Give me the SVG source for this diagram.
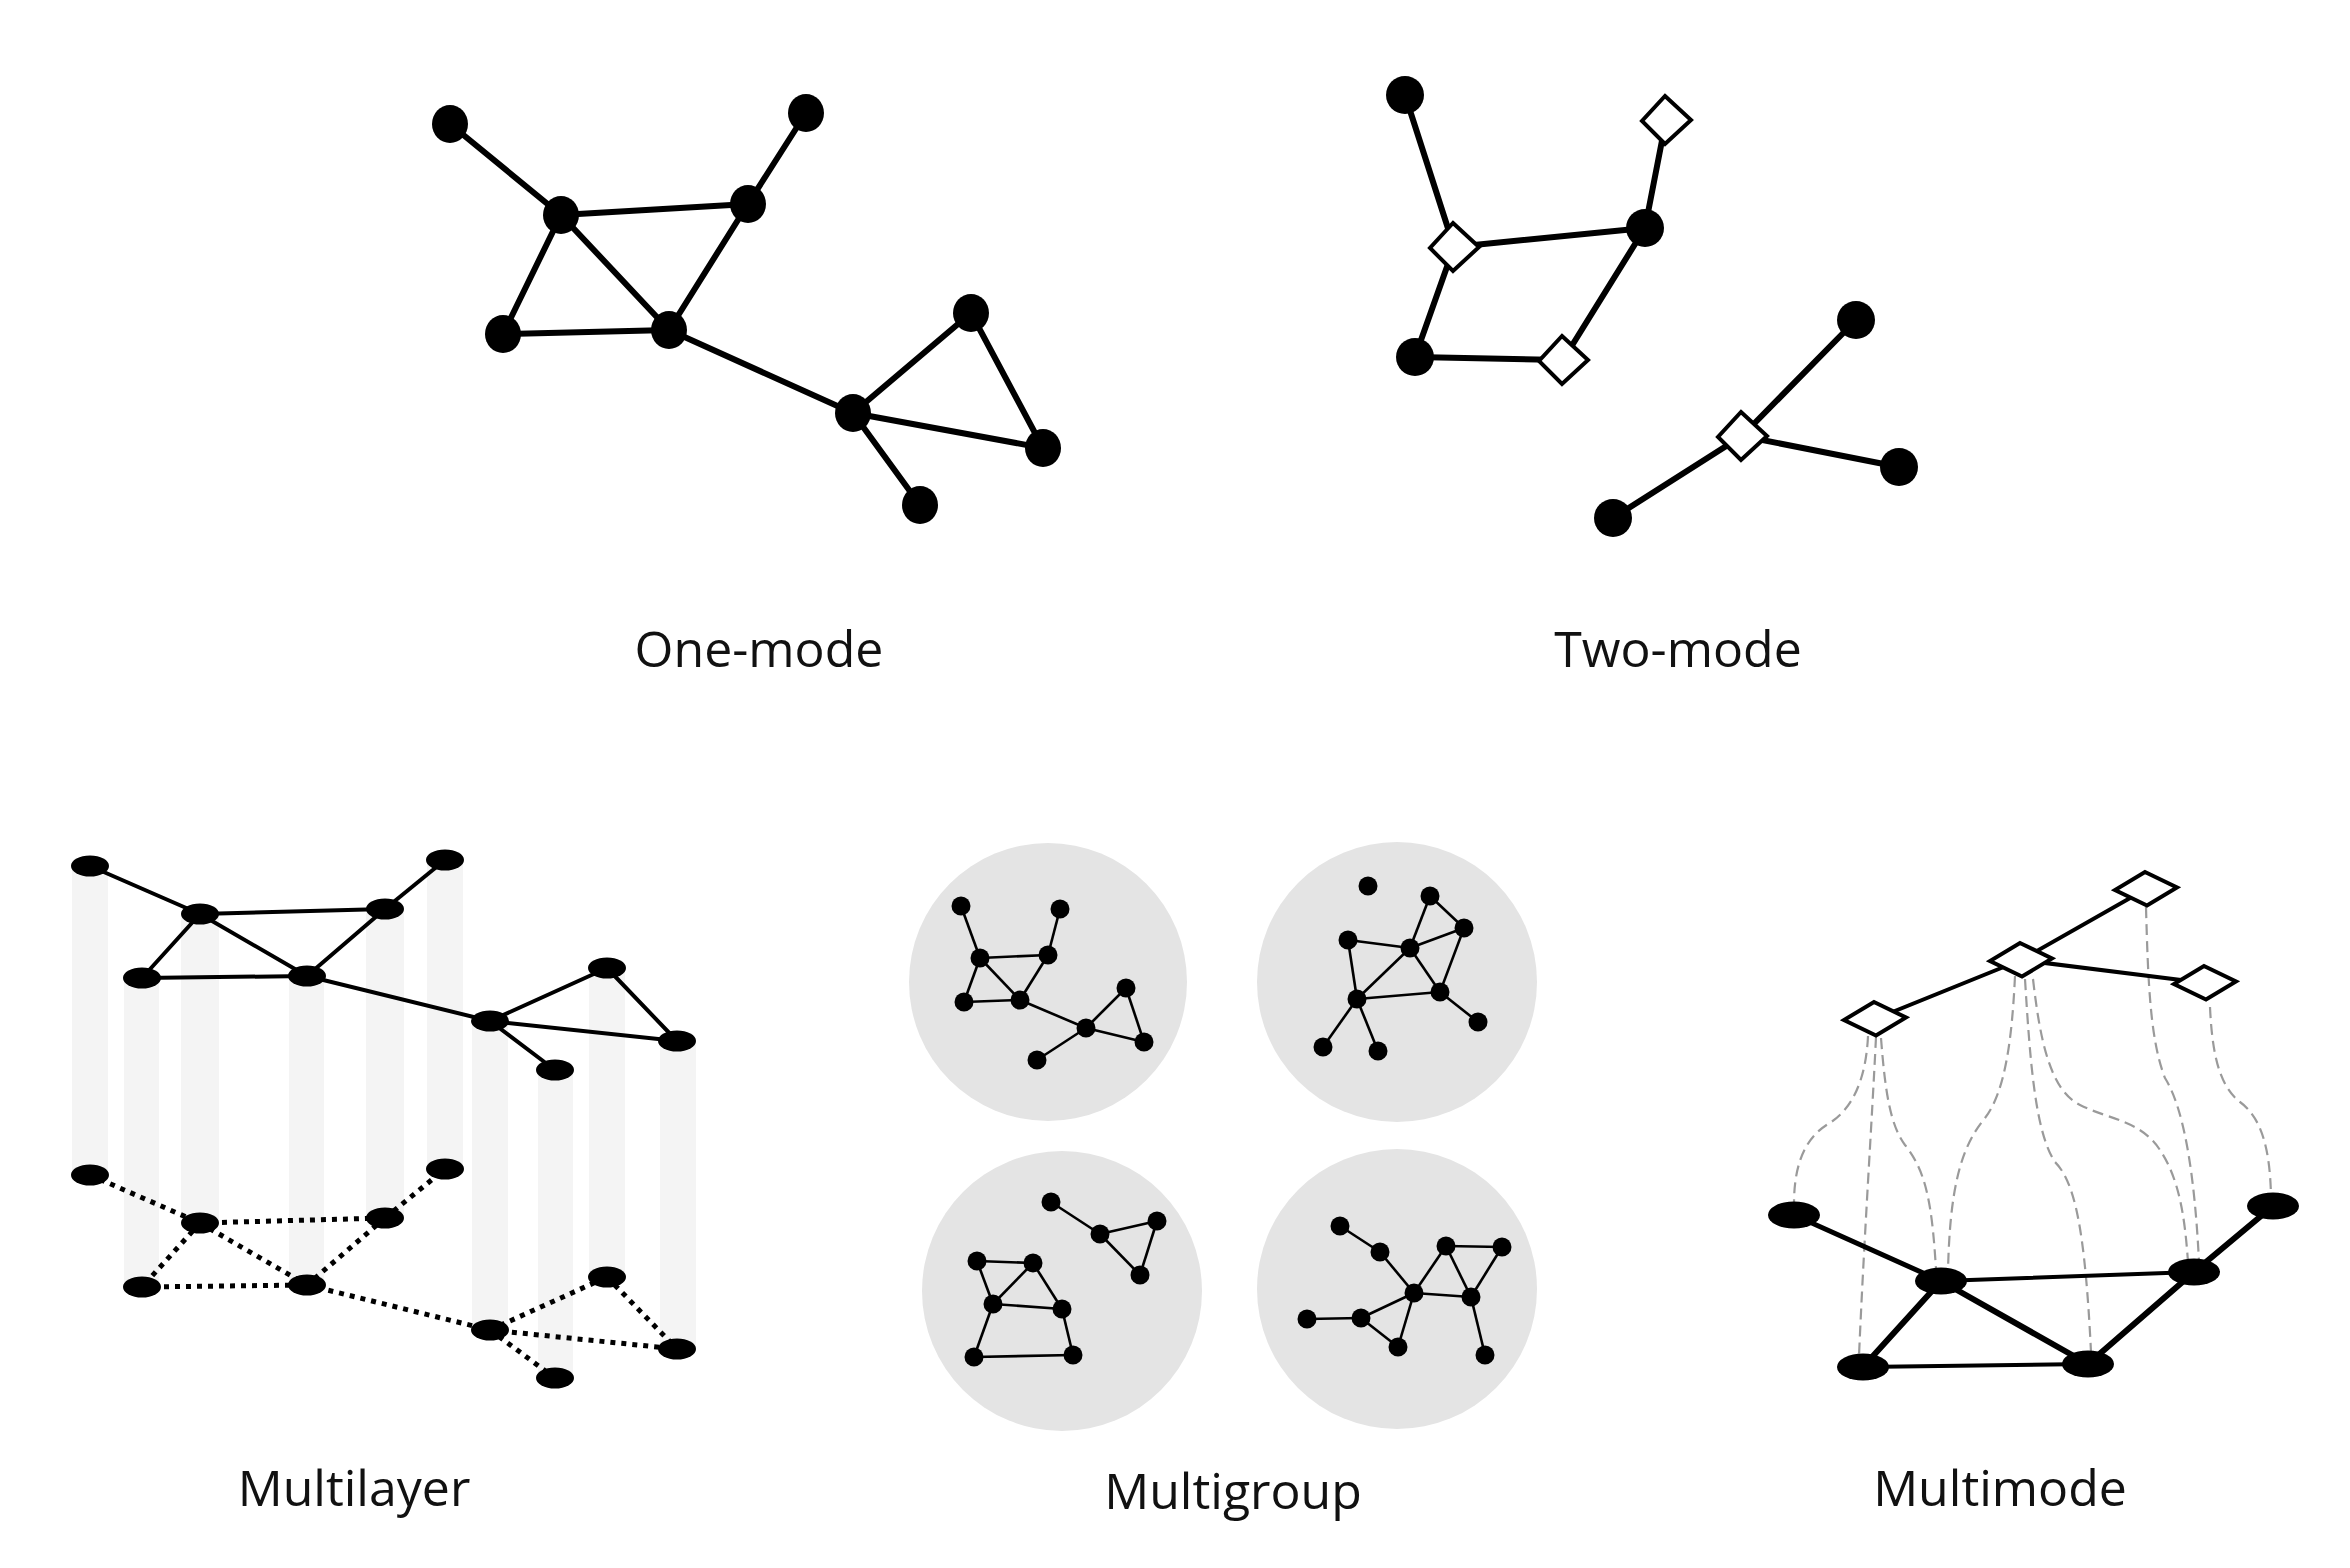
<svg xmlns="http://www.w3.org/2000/svg" xmlns:xlink="http://www.w3.org/1999/xlink" width="2350" height="1568" viewBox="0 0 2350 1568">
<style>
.bg{fill:#ffffff}
.lbl{font-family:"Open Sans","Liberation Sans",sans-serif;font-size:50px;fill:#111;text-anchor:middle}
.e1{stroke:#000;stroke-width:6;fill:none;stroke-linecap:round}
.e2{stroke:#000;stroke-width:5;fill:none;stroke-linecap:round}
.e3{stroke:#000;stroke-width:4;fill:none;stroke-linecap:round}
.dot{stroke:#000;stroke-width:5;fill:none;stroke-dasharray:5 6}
.col{fill:#f4f4f4}
.grp{fill:#e4e4e4}
.eg{stroke:#000;stroke-width:2.6;fill:none}
.dash{stroke:#9a9a9a;stroke-width:2.2;fill:none;stroke-dasharray:11 6}
.n{fill:#000}
.dia{fill:#fff;stroke:#000;stroke-width:4;stroke-linejoin:miter}
</style>
<defs>
<polygon id="sq" class="dia" points="-1,-24 25,0 -1,24 -24,1"/>
<polygon id="rh" class="dia" points="-1,-17 31,-1.5 1,16.5 -31,1"/>
</defs>
<rect class="bg" x="0" y="0" width="2350" height="1568"/>

<!-- ONE-MODE -->
<g id="one-mode">
<g id="one-mode-edges">
<line class="e1" x1="450" y1="124" x2="561" y2="215"/>
<line class="e1" x1="806" y1="113" x2="748" y2="204"/>
<line class="e1" x1="561" y1="215" x2="748" y2="204"/>
<line class="e1" x1="561" y1="215" x2="503" y2="334"/>
<line class="e1" x1="561" y1="215" x2="669" y2="330"/>
<line class="e1" x1="748" y1="204" x2="669" y2="330"/>
<line class="e1" x1="503" y1="334" x2="669" y2="330"/>
<line class="e1" x1="669" y1="330" x2="853" y2="413"/>
<line class="e1" x1="853" y1="413" x2="971" y2="313"/>
<line class="e1" x1="971" y1="313" x2="1043" y2="448"/>
<line class="e1" x1="853" y1="413" x2="1043" y2="448"/>
<line class="e1" x1="853" y1="413" x2="920" y2="505"/>
</g>
<g id="one-mode-nodes" class="n">
<ellipse cx="450" cy="124" rx="18" ry="19"/>
<ellipse cx="806" cy="113" rx="18" ry="19"/>
<ellipse cx="561" cy="215" rx="18" ry="19"/>
<ellipse cx="748" cy="204" rx="18" ry="19"/>
<ellipse cx="503" cy="334" rx="18" ry="19"/>
<ellipse cx="669" cy="330" rx="18" ry="19"/>
<ellipse cx="971" cy="313" rx="18" ry="19"/>
<ellipse cx="853" cy="413" rx="18" ry="19"/>
<ellipse cx="1043" cy="448" rx="18" ry="19"/>
<ellipse cx="920" cy="505" rx="18" ry="19"/>
</g>
<text class="lbl" x="759" y="667">One-mode</text>
</g>

<!-- TWO-MODE -->
<g id="two-mode">
<g id="two-mode-edges">
<line class="e1" x1="1405" y1="95" x2="1454" y2="247"/>
<line class="e1" x1="1666" y1="120" x2="1645" y2="228"/>
<line class="e1" x1="1454" y1="247" x2="1645" y2="228"/>
<line class="e1" x1="1454" y1="247" x2="1415" y2="357"/>
<line class="e1" x1="1415" y1="357" x2="1563" y2="360"/>
<line class="e1" x1="1563" y1="360" x2="1645" y2="228"/>
<line class="e1" x1="1856" y1="320" x2="1742" y2="436"/>
<line class="e1" x1="1742" y1="436" x2="1899" y2="467"/>
<line class="e1" x1="1742" y1="436" x2="1613" y2="518"/>
</g>
<g id="two-mode-nodes">
<ellipse class="n" cx="1405" cy="95" rx="19" ry="19"/>
<ellipse class="n" cx="1645" cy="228" rx="19" ry="19"/>
<ellipse class="n" cx="1415" cy="357" rx="19" ry="19"/>
<ellipse class="n" cx="1856" cy="320" rx="19" ry="19"/>
<ellipse class="n" cx="1899" cy="467" rx="19" ry="19"/>
<ellipse class="n" cx="1613" cy="518" rx="19" ry="19"/>
<use xlink:href="#sq" href="#sq" x="1666" y="120"/>
<use xlink:href="#sq" href="#sq" x="1454" y="247"/>
<use xlink:href="#sq" href="#sq" x="1563" y="360"/>
<use xlink:href="#sq" href="#sq" x="1742" y="436"/>
</g>
<text class="lbl" x="1678" y="667">Two-mode</text>
</g>

<!-- MULTILAYER -->
<g id="multilayer">
<g id="multilayer-columns" class="col">
<rect x="72" y="866" width="36" height="309"/>
<rect x="181" y="914" width="38" height="309"/>
<rect x="366" y="909" width="38" height="309"/>
<rect x="427" y="860" width="36" height="309"/>
<rect x="124" y="978" width="35" height="309"/>
<rect x="289" y="976" width="35" height="309"/>
<rect x="589" y="968" width="36" height="309"/>
<rect x="472" y="1021" width="36" height="309"/>
<rect x="660" y="1041" width="36" height="309"/>
<rect x="538" y="1070" width="35" height="309"/>
</g>
<g id="multilayer-lower-edges">
<line class="dot" x1="90" y1="1175" x2="200" y2="1223"/>
<line class="dot" x1="200" y1="1223" x2="385" y2="1218"/>
<line class="dot" x1="385" y1="1218" x2="445" y2="1169"/>
<line class="dot" x1="200" y1="1223" x2="142" y2="1287"/>
<line class="dot" x1="200" y1="1223" x2="307" y2="1285"/>
<line class="dot" x1="385" y1="1218" x2="307" y2="1285"/>
<line class="dot" x1="142" y1="1287" x2="307" y2="1285"/>
<line class="dot" x1="307" y1="1285" x2="490" y2="1330"/>
<line class="dot" x1="490" y1="1330" x2="607" y2="1277"/>
<line class="dot" x1="607" y1="1277" x2="677" y2="1349"/>
<line class="dot" x1="490" y1="1330" x2="677" y2="1349"/>
<line class="dot" x1="490" y1="1330" x2="555" y2="1378"/>
</g>
<g id="multilayer-lower-nodes" class="n">
<ellipse cx="90" cy="1175" rx="19" ry="10.5"/>
<ellipse cx="200" cy="1223" rx="19" ry="10.5"/>
<ellipse cx="385" cy="1218" rx="19" ry="10.5"/>
<ellipse cx="445" cy="1169" rx="19" ry="10.5"/>
<ellipse cx="142" cy="1287" rx="19" ry="10.5"/>
<ellipse cx="307" cy="1285" rx="19" ry="10.5"/>
<ellipse cx="607" cy="1277" rx="19" ry="10.5"/>
<ellipse cx="490" cy="1330" rx="19" ry="10.5"/>
<ellipse cx="677" cy="1349" rx="19" ry="10.5"/>
<ellipse cx="555" cy="1378" rx="19" ry="10.5"/>
</g>
<g id="multilayer-upper-edges">
<line class="e3" x1="90" y1="866" x2="200" y2="914"/>
<line class="e3" x1="200" y1="914" x2="385" y2="909"/>
<line class="e3" x1="385" y1="909" x2="445" y2="860"/>
<line class="e3" x1="200" y1="914" x2="142" y2="978"/>
<line class="e3" x1="200" y1="914" x2="307" y2="976"/>
<line class="e3" x1="385" y1="909" x2="307" y2="976"/>
<line class="e3" x1="142" y1="978" x2="307" y2="976"/>
<line class="e3" x1="307" y1="976" x2="490" y2="1021"/>
<line class="e3" x1="490" y1="1021" x2="607" y2="968"/>
<line class="e3" x1="607" y1="968" x2="677" y2="1041"/>
<line class="e3" x1="490" y1="1021" x2="677" y2="1041"/>
<line class="e3" x1="490" y1="1021" x2="555" y2="1070"/>
</g>
<g id="multilayer-upper-nodes" class="n">
<ellipse cx="90" cy="866" rx="19" ry="10.5"/>
<ellipse cx="200" cy="914" rx="19" ry="10.5"/>
<ellipse cx="385" cy="909" rx="19" ry="10.5"/>
<ellipse cx="445" cy="860" rx="19" ry="10.5"/>
<ellipse cx="142" cy="978" rx="19" ry="10.5"/>
<ellipse cx="307" cy="976" rx="19" ry="10.5"/>
<ellipse cx="607" cy="968" rx="19" ry="10.5"/>
<ellipse cx="490" cy="1021" rx="19" ry="10.5"/>
<ellipse cx="677" cy="1041" rx="19" ry="10.5"/>
<ellipse cx="555" cy="1070" rx="19" ry="10.5"/>
</g>
<text class="lbl" x="354" y="1506">Multilayer</text>
</g>

<!-- MULTIGROUP -->
<g id="multigroup">
<g id="group-1">
<circle class="grp" cx="1048" cy="982" r="139"/>
<g class="eg">
<line x1="961" y1="906" x2="980" y2="958"/>
<line x1="1060" y1="909" x2="1048" y2="955"/>
<line x1="980" y1="958" x2="1048" y2="955"/>
<line x1="980" y1="958" x2="964" y2="1002"/>
<line x1="980" y1="958" x2="1020" y2="1000"/>
<line x1="1048" y1="955" x2="1020" y2="1000"/>
<line x1="964" y1="1002" x2="1020" y2="1000"/>
<line x1="1020" y1="1000" x2="1086" y2="1028"/>
<line x1="1086" y1="1028" x2="1126" y2="988"/>
<line x1="1126" y1="988" x2="1144" y2="1042"/>
<line x1="1086" y1="1028" x2="1144" y2="1042"/>
<line x1="1086" y1="1028" x2="1037" y2="1060"/>
</g>
<g class="n">
<circle cx="961" cy="906" r="9.5"/><circle cx="1060" cy="909" r="9.5"/>
<circle cx="980" cy="958" r="9.5"/><circle cx="1048" cy="955" r="9.5"/>
<circle cx="964" cy="1002" r="9.5"/><circle cx="1020" cy="1000" r="9.5"/>
<circle cx="1126" cy="988" r="9.5"/><circle cx="1086" cy="1028" r="9.5"/>
<circle cx="1144" cy="1042" r="9.5"/><circle cx="1037" cy="1060" r="9.5"/>
</g>
</g>
<g id="group-2">
<circle class="grp" cx="1397" cy="982" r="140"/>
<g class="eg">
<line x1="1430" y1="896" x2="1410" y2="948"/>
<line x1="1430" y1="896" x2="1464" y2="928"/>
<line x1="1464" y1="928" x2="1410" y2="948"/>
<line x1="1464" y1="928" x2="1440" y2="992"/>
<line x1="1348" y1="940" x2="1410" y2="948"/>
<line x1="1348" y1="940" x2="1357" y2="999"/>
<line x1="1410" y1="948" x2="1357" y2="999"/>
<line x1="1410" y1="948" x2="1440" y2="992"/>
<line x1="1357" y1="999" x2="1440" y2="992"/>
<line x1="1440" y1="992" x2="1478" y2="1022"/>
<line x1="1357" y1="999" x2="1323" y2="1047"/>
<line x1="1357" y1="999" x2="1378" y2="1051"/>
</g>
<g class="n">
<circle cx="1368" cy="886" r="9.5"/><circle cx="1430" cy="896" r="9.5"/>
<circle cx="1464" cy="928" r="9.5"/><circle cx="1348" cy="940" r="9.5"/>
<circle cx="1410" cy="948" r="9.5"/><circle cx="1440" cy="992" r="9.5"/>
<circle cx="1357" cy="999" r="9.5"/><circle cx="1478" cy="1022" r="9.5"/>
<circle cx="1323" cy="1047" r="9.5"/><circle cx="1378" cy="1051" r="9.5"/>
</g>
</g>
<g id="group-3">
<circle class="grp" cx="1062" cy="1291" r="140"/>
<g class="eg">
<line x1="1051" y1="1202" x2="1100" y2="1234"/>
<line x1="1100" y1="1234" x2="1157" y2="1221"/>
<line x1="1100" y1="1234" x2="1140" y2="1275"/>
<line x1="1157" y1="1221" x2="1140" y2="1275"/>
<line x1="977" y1="1261" x2="1033" y2="1263"/>
<line x1="977" y1="1261" x2="993" y2="1304"/>
<line x1="1033" y1="1263" x2="993" y2="1304"/>
<line x1="1033" y1="1263" x2="1062" y2="1309"/>
<line x1="993" y1="1304" x2="1062" y2="1309"/>
<line x1="993" y1="1304" x2="974" y2="1357"/>
<line x1="1062" y1="1309" x2="1073" y2="1355"/>
<line x1="974" y1="1357" x2="1073" y2="1355"/>
</g>
<g class="n">
<circle cx="1051" cy="1202" r="9.5"/><circle cx="1100" cy="1234" r="9.5"/>
<circle cx="1157" cy="1221" r="9.5"/><circle cx="1140" cy="1275" r="9.5"/>
<circle cx="977" cy="1261" r="9.5"/><circle cx="1033" cy="1263" r="9.5"/>
<circle cx="993" cy="1304" r="9.5"/><circle cx="1062" cy="1309" r="9.5"/>
<circle cx="974" cy="1357" r="9.5"/><circle cx="1073" cy="1355" r="9.5"/>
</g>
</g>
<g id="group-4">
<circle class="grp" cx="1397" cy="1289" r="140"/>
<g class="eg">
<line x1="1340" y1="1226" x2="1380" y2="1252"/>
<line x1="1380" y1="1252" x2="1414" y2="1293"/>
<line x1="1414" y1="1293" x2="1446" y2="1246"/>
<line x1="1446" y1="1246" x2="1502" y2="1247"/>
<line x1="1446" y1="1246" x2="1471" y2="1297"/>
<line x1="1502" y1="1247" x2="1471" y2="1297"/>
<line x1="1414" y1="1293" x2="1471" y2="1297"/>
<line x1="1414" y1="1293" x2="1361" y2="1318"/>
<line x1="1414" y1="1293" x2="1398" y2="1347"/>
<line x1="1361" y1="1318" x2="1398" y2="1347"/>
<line x1="1307" y1="1319" x2="1361" y2="1318"/>
<line x1="1471" y1="1297" x2="1485" y2="1355"/>
</g>
<g class="n">
<circle cx="1340" cy="1226" r="9.5"/><circle cx="1380" cy="1252" r="9.5"/>
<circle cx="1446" cy="1246" r="9.5"/><circle cx="1502" cy="1247" r="9.5"/>
<circle cx="1414" cy="1293" r="9.5"/><circle cx="1471" cy="1297" r="9.5"/>
<circle cx="1307" cy="1319" r="9.5"/><circle cx="1361" cy="1318" r="9.5"/>
<circle cx="1398" cy="1347" r="9.5"/><circle cx="1485" cy="1355" r="9.5"/>
</g>
</g>
<text class="lbl" x="1233" y="1509">Multigroup</text>
</g>

<!-- MULTIMODE -->
<g id="multimode">
<g id="multimode-links">
<path class="dash" d="M1868,1036 C1866,1080 1852,1110 1828,1124 C1802,1140 1794,1170 1794,1204"/>
<path class="dash" d="M1876,1037 C1872,1120 1864,1240 1859,1356"/>
<path class="dash" d="M1881,1038 C1885,1090 1890,1125 1905,1145 C1925,1170 1932,1200 1936,1270"/>
<path class="dash" d="M2015,976 C2012,1040 2005,1092 1985,1118 C1960,1148 1950,1190 1948,1270"/>
<path class="dash" d="M2025,979 C2030,1060 2035,1132 2055,1162 C2075,1182 2085,1230 2091,1352"/>
<path class="dash" d="M2033,979 C2040,1040 2050,1090 2080,1105 C2110,1120 2140,1120 2160,1150 C2180,1180 2185,1220 2188,1262"/>
<path class="dash" d="M2146,907 C2148,980 2150,1040 2165,1078 C2185,1110 2195,1180 2199,1262"/>
<path class="dash" d="M2210,1007 C2212,1050 2218,1085 2240,1102 C2262,1118 2270,1150 2271,1196"/>
</g>
<g id="multimode-edges">
<line class="e3" x1="1875" y1="1019" x2="2021" y2="960"/>
<line class="e3" x1="2021" y1="960" x2="2146" y2="889"/>
<line class="e3" x1="2021" y1="960" x2="2205" y2="983"/>
<line class="e2" x1="1794" y1="1215" x2="1941" y2="1281"/>
<line class="e3" x1="1941" y1="1281" x2="2194" y2="1272"/>
<line class="e1" x1="2194" y1="1272" x2="2273" y2="1206"/>
<line class="e1" x1="1941" y1="1281" x2="1863" y2="1367"/>
<line class="e1" x1="1941" y1="1281" x2="2088" y2="1364"/>
<line class="e3" x1="1863" y1="1367" x2="2088" y2="1364"/>
<line class="e1" x1="2088" y1="1364" x2="2194" y2="1272"/>
</g>
<g id="multimode-nodes">
<use xlink:href="#rh" href="#rh" x="2146" y="889"/>
<use xlink:href="#rh" href="#rh" x="2021" y="960"/>
<use xlink:href="#rh" href="#rh" x="2205" y="983"/>
<use xlink:href="#rh" href="#rh" x="1875" y="1019"/>
<ellipse class="n" cx="1794" cy="1215" rx="26" ry="13.5"/>
<ellipse class="n" cx="1941" cy="1281" rx="26" ry="13.5"/>
<ellipse class="n" cx="2194" cy="1272" rx="26" ry="13.5"/>
<ellipse class="n" cx="2273" cy="1206" rx="26" ry="13.5"/>
<ellipse class="n" cx="1863" cy="1367" rx="26" ry="13.5"/>
<ellipse class="n" cx="2088" cy="1364" rx="26" ry="13.5"/>
</g>
<text class="lbl" x="2000" y="1506">Multimode</text>
</g>
</svg>
